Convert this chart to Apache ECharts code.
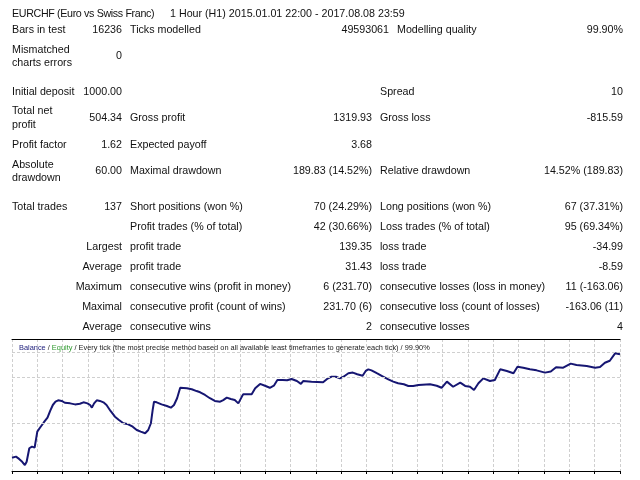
<!DOCTYPE html>
<html>
<head>
<meta charset="utf-8">
<script src="https://cdn.jsdelivr.net/npm/echarts@6/dist/echarts.min.js"></script>
<style>
    html, body { margin: 0; padding: 0; background: #fff; }
    #page { position: relative; width: 640px; height: 480px; overflow: hidden; }
    #chart { position: absolute; left: 0; top: 0; width: 640px; height: 480px; }
    .t { position: absolute; font-family: "Liberation Sans", Arial, sans-serif; font-size: 10.7px; line-height: 14px; color: #111; white-space: pre; }
    .r { transform: translateX(-100%); }
    .h { letter-spacing: -0.35px; }
</style>
</head>
<body>
<div id="page">
    <div id="chart"></div>
    <div id="report"></div>
</div>
<script>
// 余额曲线（交易序号 / 余额）
const tradeNo = [0, 0.9, 1.6, 2.3, 2.9, 3.3, 3.9, 4.5, 5.1, 5.7, 6.3, 7.2, 8.0, 8.6, 9.2, 9.8, 10.4, 11.2, 11.9, 13.1,
    14.2, 15.3, 16.1, 17.0, 17.6, 18.0, 18.5, 19.1, 19.8, 20.6, 21.3, 22.2, 23.2, 24.1, 25.1, 26.2, 27.2, 28.1, 29.0, 30.0,
    30.7, 31.3, 31.7, 32.0, 32.6, 33.7, 34.9, 35.8, 36.5, 37.2, 37.9, 38.2, 39.4, 40.5, 41.6, 42.4, 43.5, 44.6, 45.7, 46.9,
    47.6, 48.4, 49.3, 50.2, 51.0, 51.8, 52.1, 54.0, 54.8, 55.9, 57.0, 58.1, 59.0, 59.8, 61.0, 62.0, 63.0, 64.2, 65.1, 65.6,
    67.5, 70.1, 71.0, 72.0, 73.0, 73.9, 74.7, 75.8, 76.8, 77.8, 79.0, 79.7, 80.3, 81.0, 82.2, 83.5, 84.8, 85.9, 87.0, 88.3,
    89.3, 90.4, 91.6, 94.2, 95.7, 96.8, 98.0, 99.4, 101.0, 102.1, 103.2, 104.1, 105.1, 106.2, 107.7, 108.8, 110.0, 111.5, 113.0, 113.9,
    115.2, 116.7, 118.2, 120.1, 121.4, 122.6, 124.2, 125.9, 127.2, 129.5, 131.4, 132.5, 133.6, 134.7, 135.9, 136.3, 137];
const balance = [1000, 1005, 994, 980, 964, 980, 1046, 1054, 1049, 1127, 1146, 1173, 1195, 1228, 1257, 1273, 1280, 1277, 1268, 1265,
    1260, 1263, 1270, 1265, 1257, 1244, 1265, 1280, 1277, 1270, 1257, 1228, 1200, 1184, 1168, 1163, 1151, 1135, 1127, 1119,
    1135, 1168, 1233, 1273, 1270, 1260, 1252, 1244, 1257, 1290, 1341, 1346, 1339, 1334, 1325, 1319, 1306, 1290, 1277, 1273,
    1281, 1293, 1286, 1281, 1265, 1298, 1309, 1309, 1339, 1360, 1351, 1341, 1351, 1379, 1379, 1378, 1384, 1374, 1360, 1374,
    1371, 1368, 1384, 1395, 1395, 1387, 1395, 1412, 1415, 1407, 1400, 1423, 1431, 1426, 1412, 1397, 1382, 1371, 1363, 1358,
    1350, 1350, 1355, 1358, 1351, 1341, 1371, 1346, 1366, 1350, 1346, 1330, 1363, 1387, 1374, 1379, 1431, 1423, 1412, 1444,
    1439, 1431, 1426, 1415, 1420, 1441, 1439, 1459, 1452, 1447, 1439, 1442, 1463, 1473, 1509, 1514, 1504.34];
// 横向网格线位置（余额值）
const gridValues = [1169, 1394, 1516];
const totalTrades = 137;
const xSteps = 24;

// 报告表格
const cols = { a: [12, 'l'], t2: [170, 'l'], b: [122, 'r'], c: [130, 'l'], d: [372, 'r'], e: [380, 'l'], f: [623, 'r'],
    d2: [389, 'r'], e2: [397, 'l'] };
const rows = [
    [13, [['EURCHF (Euro vs Swiss Franc)', 'a', true], ['1 Hour (H1) 2015.01.01 22:00 - 2017.08.08 23:59', 't2']]],
    [29, [['Bars in test', 'a'], ['16236', 'b'], ['Ticks modelled', 'c'], ['49593061', 'd2'], ['Modelling quality', 'e2'], ['99.90%', 'f']]],
    [49, [['Mismatched', 'a']]],
    [62, [['charts errors', 'a']]],
    [55, [['0', 'b']]],
    [91, [['Initial deposit', 'a'], ['1000.00', 'b'], ['Spread', 'e'], ['10', 'f']]],
    [110, [['Total net', 'a']]],
    [124, [['profit', 'a']]],
    [117, [['504.34', 'b'], ['Gross profit', 'c'], ['1319.93', 'd'], ['Gross loss', 'e'], ['-815.59', 'f']]],
    [144, [['Profit factor', 'a'], ['1.62', 'b'], ['Expected payoff', 'c'], ['3.68', 'd']]],
    [164, [['Absolute', 'a']]],
    [177, [['drawdown', 'a']]],
    [170, [['60.00', 'b'], ['Maximal drawdown', 'c'], ['189.83 (14.52%)', 'd'], ['Relative drawdown', 'e'], ['14.52% (189.83)', 'f']]],
    [206, [['Total trades', 'a'], ['137', 'b'], ['Short positions (won %)', 'c'], ['70 (24.29%)', 'd'], ['Long positions (won %)', 'e'], ['67 (37.31%)', 'f']]],
    [226, [['Profit trades (% of total)', 'c'], ['42 (30.66%)', 'd'], ['Loss trades (% of total)', 'e'], ['95 (69.34%)', 'f']]],
    [246, [['Largest', 'b'], ['profit trade', 'c'], ['139.35', 'd'], ['loss trade', 'e'], ['-34.99', 'f']]],
    [266, [['Average', 'b'], ['profit trade', 'c'], ['31.43', 'd'], ['loss trade', 'e'], ['-8.59', 'f']]],
    [286, [['Maximum', 'b'], ['consecutive wins (profit in money)', 'c'], ['6 (231.70)', 'd'], ['consecutive losses (loss in money)', 'e'], ['11 (-163.06)', 'f']]],
    [306, [['Maximal', 'b'], ['consecutive profit (count of wins)', 'c'], ['231.70 (6)', 'd'], ['consecutive loss (count of losses)', 'e'], ['-163.06 (11)', 'f']]],
    [326, [['Average', 'b'], ['consecutive wins', 'c'], ['2', 'd'], ['consecutive losses', 'e'], ['4', 'f']]]
];

function renderReport() {
    const box = document.getElementById('report');
    rows.forEach(([y, cells]) => {
        cells.forEach(([text, key, tight]) => {
            const [x, align] = cols[key];
            const el = document.createElement('div');
            el.className = 't' + (align === 'r' ? ' r' : '') + (tight ? ' h' : '');
            el.style.left = x + 'px';
            el.style.top = (y - 7) + 'px';
            el.textContent = text;
            box.appendChild(el);
        });
    });
}

function renderChart() {
    const chart = echarts.init(document.getElementById('chart'));
    chart.setOption({
        animation: false,
        title: {
            left: 14, top: 339,
            text: '{b|Balance} / {e|Equity} / Every tick (the most precise method based on all available least timeframes to generate each tick) / 99.90%',
            textStyle: {
                fontFamily: 'Liberation Sans', fontSize: 7.4, fontWeight: 'normal', color: '#222',
                rich: { b: { color: '#1c1c7a', fontSize: 7.4 }, e: { color: '#2e9a2e', fontSize: 7.4 } }
            }
        },
        grid: { left: 12, right: 20, top: 339, bottom: 9 },
        xAxis: [{
            type: 'value', min: 0, max: totalTrades, interval: totalTrades / xSteps,
            axisLine: { lineStyle: { color: '#000', width: 1 } },
            axisTick: { show: true, length: 3, lineStyle: { color: '#000' } },
            axisLabel: { show: false },
            splitLine: { show: true, lineStyle: { color: '#cfcfcf', type: [3, 2], width: 1 } }
        }, {
            type: 'value', position: 'top', min: 0, max: totalTrades,
            axisLine: { show: true, lineStyle: { color: '#000', width: 1 } },
            axisTick: { show: false }, axisLabel: { show: false }, splitLine: { show: false }
        }],
        yAxis: {
            type: 'value', min: 935, max: 1579,
            axisLine: { show: false }, axisTick: { show: false }, axisLabel: { show: false },
            splitLine: { show: false }
        },
        series: [{
            type: 'line',
            data: tradeNo.map((t, i) => [t, balance[i]]),
            showSymbol: false,
            lineStyle: { color: '#161672', width: 2 },
            markLine: {
                silent: true, symbol: 'none', label: { show: false },
                lineStyle: { color: '#cfcfcf', type: [3, 2], width: 1 },
                data: gridValues.map(v => ({ yAxis: v }))
            }
        }]
    });
}

renderReport();
renderChart();
</script>
</body>
</html>
